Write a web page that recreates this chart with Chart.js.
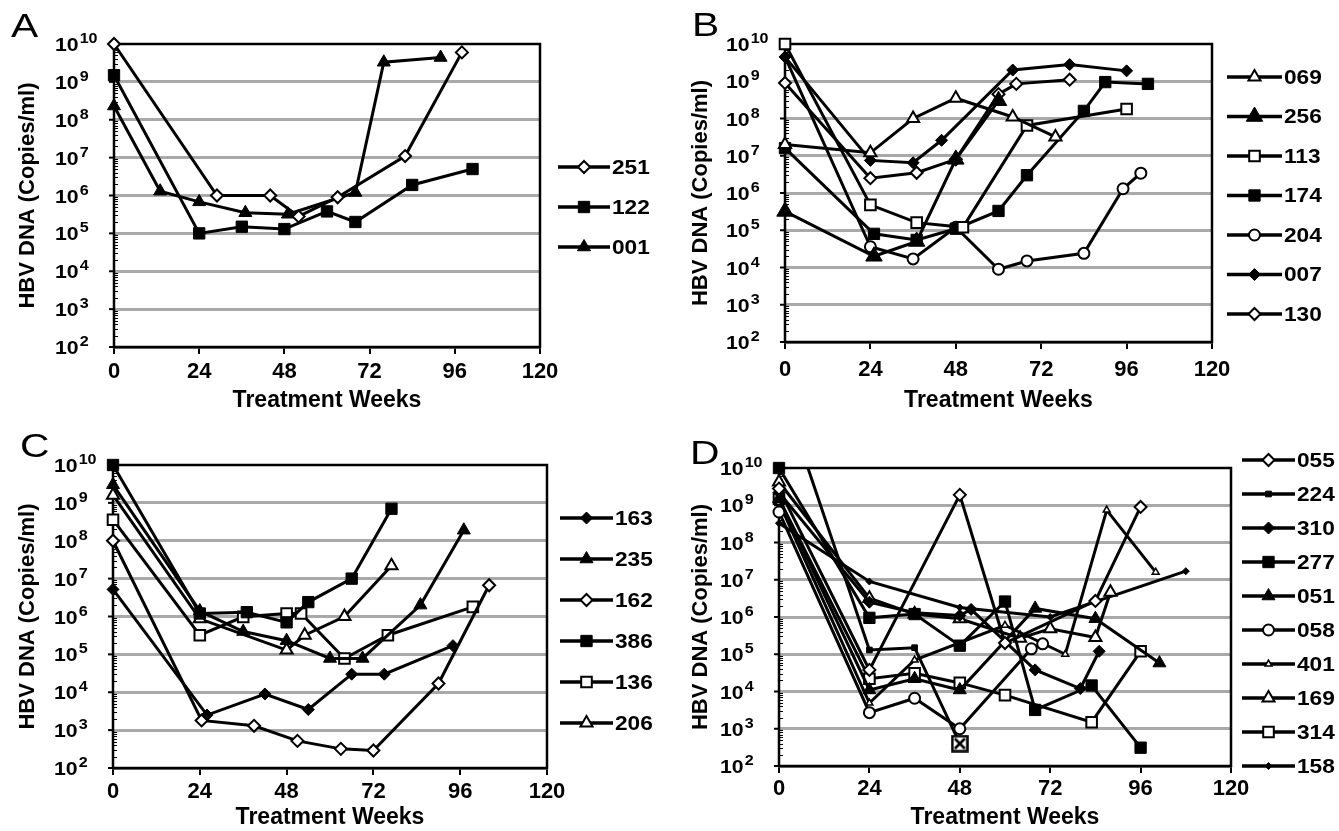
<!DOCTYPE html>
<html>
<head>
<meta charset="utf-8">
<title>HBV DNA during treatment</title>
<script src="https://cdn.jsdelivr.net/npm/chart.js@4.4.1/dist/chart.umd.min.js"></script>
<style>
  html, body { margin: 0; padding: 0; background: #fff; }
  #page { position: relative; width: 1339px; height: 831px; overflow: hidden; background: #fff; }
  #page canvas { position: absolute; }
</style>
</head>
<body>
<div id="page">
  <canvas id="panel-a" width="670" height="415" style="left:0;top:0"></canvas>
  <canvas id="panel-b" width="669" height="415" style="left:670px;top:0"></canvas>
  <canvas id="panel-c" width="670" height="416" style="left:0;top:415px"></canvas>
  <canvas id="panel-d" width="669" height="416" style="left:670px;top:415px"></canvas>
</div>
<script>
const weekTicks = [0, 24, 48, 72, 96, 120]
const decades = [1e2, 1e3, 1e4, 1e5, 1e6, 1e7, 1e8, 1e9, 1e10]

// panel A: [week, copies/ml]
const a251 = [[0, 1e10], [29, 1e6], [44, 1e6], [52, 2.8e5], [63, 9e5], [82, 1.1e7], [98, 6e9]]
const a122 = [[0, 1.5e9], [24, 1e5], [36, 1.5e5], [48, 1.3e5], [60, 3.8e5], [68, 2e5], [84, 1.9e6], [101, 5e6]]
const a001 = [[0, 2.3e8], [13, 1.3e6], [24, 6.8e5], [37, 3.5e5], [49, 3.2e5], [68, 1.2e6], [76, 3.3e9], [92, 4.4e9]]

// panel B
const b069 = [[0, 2e7], [24, 1.2e7], [36, 1e8], [48, 3.5e8], [64, 1.1e8], [76, 3.2e7]]
const b256 = [[0, 3.2e5], [25, 2e4], [37, 5e4], [48, 8e6], [60, 3e8]]
const b113 = [[0, 1e10], [24, 4.8e5], [37, 1.6e5], [50, 1.2e5], [68, 6.5e7], [96, 1.8e8]]
const b174 = [[0, 1.6e7], [25, 8e4], [37, 5.5e4], [48, 1.1e5], [60, 3.3e5], [68, 3e6], [84, 1.6e8], [90, 9.5e8], [102, 8.5e8]]
const b204 = [[0, 4.5e9], [24, 3.6e4], [36, 1.7e4], [48, 1.2e5], [60, 9e3], [68, 1.5e4], [84, 2.4e4], [95, 1.3e6], [100, 3.4e6]]
const b007 = [[0, 4.5e9], [24, 7.5e6], [36, 6.5e6], [44, 2.6e7], [64, 2e9], [80, 2.8e9], [96, 1.9e9]]
const b130 = [[0, 9e8], [24, 2.5e6], [37, 3.5e6], [48, 8e6], [60, 4.5e8], [65, 8.5e8], [80, 1.1e9]]

// panel C
const c163 = [[0, 5.2e6], [26, 2.5e3], [42, 9e3], [54, 3.5e3], [66, 3e4], [75, 3e4], [94, 1.7e5]]
const c235 = [[0, 3e9], [24, 1.4e6], [36, 4e5], [48, 2.3e5], [60, 7.8e4], [69, 7.8e4], [85, 2e6], [97, 1.9e8]]
const c162 = [[0, 1e8], [24.5, 1.8e3], [39, 1.3e3], [51, 5.2e2], [63, 3.2e2], [72, 2.9e2], [90, 1.7e4], [104, 6.7e6]]
const c386 = [[0, 1e10], [24, 1.2e6], [37, 1.3e6], [48, 7e5], [54, 2.4e6], [66, 1e7], [77, 7e8]]
const c136 = [[0, 3.6e8], [24, 3.2e5], [36, 9.8e5], [48, 1.2e6], [52, 1.2e6], [64, 7.8e4], [76, 3.2e5], [99.5, 1.8e6]]
const c206 = [[0, 1.6e9], [24, 8.7e5], [48, 1.3e5], [53, 3.2e5], [64, 1e6], [77, 2.2e7]]

// panel D
const d055 = [[0, 2.8e9], [24, 3.8e4], [48, 1.9e9], [60, 2e5], [84, 2.7e6], [96, 9e8]]
const d224 = [[0, 2e12], [24, 1.3e5], [36, 1.5e5], [48, 4e2]]
const d310 = [[0, 2.2e9], [24, 2.5e6], [36, 1.3e6], [48, 1.1e6], [51, 1.6e6], [68, 3.8e4], [80, 1.2e4], [85, 1.2e5]]
const d277 = [[0, 1e10], [24, 9.5e5], [36, 1.2e6], [48, 1.7e5], [60, 2.6e6], [68, 3.2e3], [83, 1.45e4], [96, 3.1e2]]
const d051 = [[0, 1.5e9], [24, 1.1e4], [36, 2.2e4], [48, 1.1e4], [68, 1.7e6], [84, 9e5], [101, 5.8e4]]
const d058 = [[0, 6.6e8], [24, 2.7e3], [36, 6.6e3], [48, 1e3], [67, 1.4e5], [70, 1.9e5]]
const d401 = [[0, 1.2e9], [24, 4.9e3], [36, 7e4], [60, 6e5], [76, 1e5], [87, 7.4e8], [100, 1.6e7]]
const d169 = [[0, 4.2e9], [24, 3.2e6], [36, 1.2e6], [48, 9e5], [64, 2.7e5], [72, 4.8e5], [84, 2.8e5], [88, 4.6e6]]
const d314 = [[0, 1.5e9], [24, 2.2e4], [36, 3.1e4], [48, 1.7e4], [60, 8e3], [83, 1.5e3], [96, 1.2e5]]
const d158 = [[0, 3.3e8], [24, 9e6], [48, 1.8e6], [72, 1e6], [108, 1.7e7]]

const FONT = '"Liberation Sans", Arial, Helvetica, sans-serif'
Chart.defaults.font.family = FONT
Chart.defaults.color = '#000'

const markers = {
  openDiamond: { style: 'rectRot', radius: 6, fill: '#fff', borderWidth: 2 },
  filledDiamond: { style: 'rectRot', radius: 6, fill: '#000', borderWidth: 1 },
  openSquare: { style: 'rect', radius: 7.5, fill: '#fff', borderWidth: 2 },
  filledSquare: { style: 'rect', radius: 8, fill: '#000', borderWidth: 1 },
  openTriangle: { style: 'triangle', radius: 7, fill: '#fff', borderWidth: 2 },
  filledTriangle: { style: 'triangle', radius: 7.5, fill: '#000', borderWidth: 1 },
  bigTriangle: { style: 'triangle', radius: 9.5, fill: '#000', borderWidth: 1 },
  openCircle: { style: 'circle', radius: 5.5, fill: '#fff', borderWidth: 2 },
  smallSquare: { style: 'rect', radius: 4, fill: '#000', borderWidth: 1 },
  smallTriangle: { style: 'triangle', radius: 4, fill: '#fff', borderWidth: 1.5 },
  smallDiamond: { style: 'rectRot', radius: 3.5, fill: '#000', borderWidth: 1 }
}

// square with a cross, used for the last 224 value
const crossBox = document.createElement('canvas')
crossBox.width = 18
crossBox.height = 18
const cb = crossBox.getContext('2d')
cb.fillStyle = '#fff'
cb.fillRect(1, 1, 16, 16)
cb.strokeStyle = '#000'
cb.lineWidth = 2.5
cb.strokeRect(1.5, 1.5, 15, 15)
cb.beginPath()
cb.moveTo(4, 4); cb.lineTo(14, 14)
cb.moveTo(14, 4); cb.lineTo(4, 14)
cb.stroke()

const panels = [
  {
    id: 'panel-a', letter: 'A', letterAt: [11, 37], size: [670, 415],
    area: { left: 114, top: 44, right: 540, bottom: 347 },
    tickPad: 5, xTitlePad: 1, yTitlePad: 15,
    legend: { x1: 558, x2: 610, y0: 167, dy: 40 },
    series: [
      { name: '251', points: a251, marker: 'openDiamond' },
      { name: '122', points: a122, marker: 'filledSquare' },
      { name: '001', points: a001, marker: 'filledTriangle' }
    ]
  },
  {
    id: 'panel-b', letter: 'B', letterAt: [22, 36], size: [669, 415],
    area: { left: 115, top: 44, right: 542, bottom: 342 },
    tickPad: 8, xTitlePad: 1, yTitlePad: 18,
    legend: { x1: 557, x2: 612, y0: 77, dy: 39.5 },
    series: [
      { name: '069', points: b069, marker: 'openTriangle' },
      { name: '256', points: b256, marker: 'bigTriangle' },
      { name: '113', points: b113, marker: 'openSquare' },
      { name: '174', points: b174, marker: 'filledSquare' },
      // first 204 marker is hidden under the black cluster in the original
      { name: '204', points: b204, marker: 'openCircle', order: 1, hideFirst: true },
      { name: '007', points: b007, marker: 'filledDiamond' },
      { name: '130', points: b130, marker: 'openDiamond' }
    ]
  },
  {
    id: 'panel-c', letter: 'C', letterAt: [20, 42], size: [670, 416],
    area: { left: 113, top: 50, right: 547, bottom: 353 },
    tickPad: 4, xTitlePad: 0, yTitlePad: 15,
    legend: { x1: 560, x2: 613, y0: 103, dy: 41 },
    series: [
      { name: '163', points: c163, marker: 'filledDiamond' },
      { name: '235', points: c235, marker: 'filledTriangle' },
      { name: '162', points: c162, marker: 'openDiamond' },
      { name: '386', points: c386, marker: 'filledSquare' },
      { name: '136', points: c136, marker: 'openSquare' },
      { name: '206', points: c206, marker: 'openTriangle' }
    ]
  },
  {
    id: 'panel-d', letter: 'D', letterAt: [20, 49], size: [669, 416],
    area: { left: 109, top: 53, right: 561, bottom: 351 },
    tickPad: 3, xTitlePad: 0, yTitlePad: 18,
    legend: { x1: 572, x2: 625, y0: 45, dy: 34 },
    series: [
      { name: '055', points: d055, marker: 'openDiamond' },
      { name: '224', points: d224, marker: 'smallSquare', special: crossBox, clip: { left: 12, top: 1, right: 12, bottom: 12 } },
      { name: '310', points: d310, marker: 'filledDiamond' },
      { name: '277', points: d277, marker: 'filledSquare' },
      { name: '051', points: d051, marker: 'filledTriangle' },
      { name: '058', points: d058, marker: 'openCircle' },
      { name: '401', points: d401, marker: 'smallTriangle' },
      { name: '169', points: d169, marker: 'openTriangle' },
      { name: '314', points: d314, marker: 'openSquare' },
      { name: '158', points: d158, marker: 'smallDiamond' }
    ]
  }
]

// text drawn a little wider than the font, as in the printed figure
const wideText = (ctx, text, x, y, stretch) => {
  ctx.save()
  ctx.translate(x, y)
  ctx.scale(stretch, 1)
  ctx.fillText(text, 0, 0)
  ctx.restore()
  return ctx.measureText(text).width * stretch
}

// frame, minor ticks, decade labels, panel letter and legend
const decor = (panel) => ({
  id: 'decor',
  beforeDatasetsDraw (chart) {
    const { ctx, chartArea: a, scales: { y } } = chart
    ctx.save()
    ctx.strokeStyle = '#000'
    ctx.lineWidth = 1
    for (let e = 2; e < 10; e++) {
      for (let m = 2; m <= 9; m++) {
        const py = Math.round(y.getPixelForValue(m * 10 ** e)) + 0.5
        ctx.beginPath()
        ctx.moveTo(a.left, py)
        ctx.lineTo(a.left + 4, py)
        ctx.stroke()
      }
    }
    ctx.lineWidth = 2.5
    ctx.strokeRect(a.left, a.top, a.right - a.left, a.bottom - a.top)
    decades.forEach((v) => {
      const py = y.getPixelForValue(v)
      ctx.lineWidth = 2
      ctx.beginPath()
      ctx.moveTo(a.left - 5, py)
      ctx.lineTo(a.left, py)
      ctx.stroke()
      const x0 = a.left - 59
      ctx.fillStyle = '#000'
      ctx.textBaseline = 'alphabetic'
      ctx.textAlign = 'left'
      ctx.font = `bold 19px ${FONT}`
      const wBase = wideText(ctx, '10', x0, py + 7, 1.12)
      ctx.font = `bold 14px ${FONT}`
      wideText(ctx, String(Math.round(Math.log10(v))), x0 + wBase + 1, py - 1, 1.15)
    })
    ctx.restore()
  },
  afterDraw (chart) {
    const { ctx } = chart
    ctx.save()
    ctx.fillStyle = '#000'
    ctx.textAlign = 'left'
    ctx.textBaseline = 'alphabetic'
    ctx.font = `34px ${FONT}`
    wideText(ctx, panel.letter, panel.letterAt[0], panel.letterAt[1], 1.2)

    const lg = panel.legend
    panel.series.forEach((s, i) => {
      const py = lg.y0 + i * lg.dy
      const m = markers[s.marker]
      ctx.strokeStyle = '#000'
      ctx.lineWidth = 3.5
      ctx.beginPath()
      ctx.moveTo(lg.x1, py)
      ctx.lineTo(lg.x2, py)
      ctx.stroke()
      ctx.fillStyle = m.fill
      ctx.lineWidth = m.borderWidth
      Chart.helpers.drawPoint(ctx, { pointStyle: m.style, radius: m.radius, rotation: 0, borderWidth: m.borderWidth }, (lg.x1 + lg.x2) / 2, py)
      ctx.fillStyle = '#000'
      ctx.font = `bold 21px ${FONT}`
      ctx.textBaseline = 'middle'
      wideText(ctx, s.name, lg.x2 + 2, py + 1, 1.08)
    })
    ctx.restore()
  }
})

const buildPanel = (panel) => {
  const canvas = document.getElementById(panel.id)
  const [w, h] = panel.size
  const a = panel.area
  const datasets = panel.series.map((s) => {
    const m = markers[s.marker]
    return {
      label: s.name,
      data: s.points.map(([x, y]) => ({ x, y })),
      order: s.order || 0,
      borderColor: '#000',
      borderWidth: 3,
      fill: false,
      tension: 0,
      pointStyle: s.special ? (c) => (c.dataIndex === s.points.length - 1 ? s.special : m.style) : m.style,
      pointRadius: s.hideFirst ? (c) => (c.dataIndex === 0 ? 0 : m.radius) : m.radius,
      pointBackgroundColor: m.fill,
      pointBorderColor: '#000',
      pointBorderWidth: m.borderWidth,
      clip: s.clip || false
    }
  })

  new Chart(canvas, {
    type: 'line',
    data: { datasets },
    options: {
      responsive: false,
      animation: false,
      devicePixelRatio: 1,
      layout: { padding: { left: 0, top: a.top, right: w - a.right, bottom: 0 } },
      plugins: { legend: { display: false }, tooltip: { enabled: false } },
      scales: {
        x: {
          type: 'linear',
          min: 0,
          max: 120,
          afterBuildTicks: (sc) => { sc.ticks = weekTicks.map((v) => ({ value: v })) },
          afterFit: (sc) => { sc.height = h - a.bottom },
          ticks: { font: { size: 22, weight: 'bold' }, padding: panel.tickPad, maxRotation: 0 },
          grid: { drawOnChartArea: false, drawTicks: true, tickLength: 7, color: '#000', lineWidth: 2 },
          border: { display: true, color: '#000', width: 2.5 },
          title: { display: true, text: 'Treatment Weeks', font: { size: 23, weight: 'bold' }, padding: { top: 0, bottom: panel.xTitlePad } }
        },
        y: {
          type: 'logarithmic',
          min: 1e2,
          max: 1e10,
          afterBuildTicks: (sc) => { sc.ticks = decades.map((v) => ({ value: v })) },
          afterFit: (sc) => { sc.width = a.left },
          ticks: { display: false },
          grid: {
            drawTicks: false,
            lineWidth: 3,
            color: (c) => (c.tick && (c.tick.value === 1e2 || c.tick.value === 1e10) ? 'rgba(0,0,0,0)' : '#a9a9a9')
          },
          border: { display: false },
          title: { display: true, text: 'HBV DNA (Copies/ml)', font: { size: 22, weight: 'bold' }, padding: { top: panel.yTitlePad, bottom: 0 } }
        }
      }
    },
    plugins: [decor(panel)]
  })
}

panels.forEach(buildPanel)
</script>
</body>
</html>
